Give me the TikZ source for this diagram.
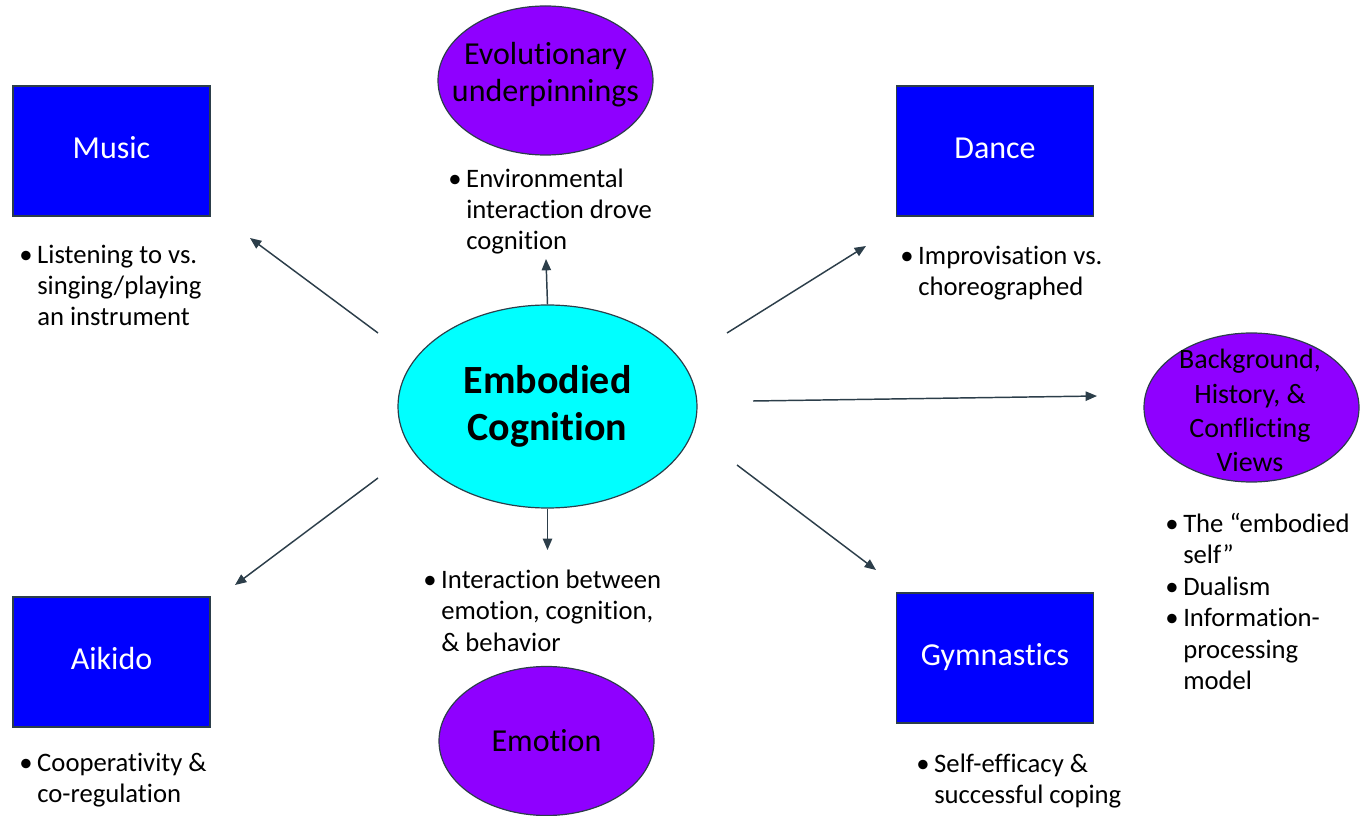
\documentclass[tikz,border=0pt]{standalone}
\usepackage{fontspec}
\setmainfont{Carlito}[Ligatures={NoCommon,NoRequired,NoContextual,NoRare}, Contextuals=NoAlternate]
\usetikzlibrary{shapes, arrows.meta, positioning, calc}

\definecolor{boxblue}{RGB}{0,0,255}
\definecolor{topicviolet}{RGB}{143,0,255}
\definecolor{hubcyan}{RGB}{0,255,255}
\definecolor{edgeslate}{RGB}{44,62,74}

\newcommand{\bul}{\makebox[13.5pt][l]{•}}
\newcommand{\ind}{\hspace*{13.5pt}}

\begin{document}
\begin{tikzpicture}[
    x=0.75pt, y=-0.75pt,
    >={Triangle[length=8.5pt, width=7pt]},
    topicbox/.style={rectangle, draw=edgeslate, line width=0.9pt, fill=boxblue, text=white,
        minimum width=147.75pt, minimum height=97.5pt, inner sep=0pt,
        text height=16pt, text depth=5pt, font=\fontsize{24}{28}\selectfont},
    topic/.style={ellipse, draw=edgeslate, line width=0.9pt, fill=topicviolet,
        minimum width=161.25pt, minimum height=111.75pt, inner sep=0pt, font=\fontsize{24}{28}\selectfont},
    topictext/.style={anchor=base, align=center, inner sep=0pt, font=\fontsize{24}{27.75}\selectfont},
    hub/.style={ellipse, draw=edgeslate, line width=0.9pt, fill=hubcyan, align=center,
        minimum width=224.25pt, minimum height=152.25pt, inner sep=0pt,
        font=\bfseries\fontsize{30}{35.25}\selectfont},
    notes/.style={anchor=base west, align=left, inner sep=0pt, font=\fontsize{20}{23.6}\selectfont},
    flow/.style={->, line width=1.1pt, edgeslate}
]
\useasboundingbox (0,0) rectangle (1361,816);

% Central topic
\node (Hub) at (547.5,406.5) [hub] {Embodied\\Cognition};

% Activities
\node (Music) at (111.5,151) [topicbox] {Music};
\node (Dance) at (995,151) [topicbox] {Dance};
\node (Aikido) at (111.5,662) [topicbox] {Aikido};
\node (Gym) at (995,658) [topicbox] {Gymnastics};

% Themes (text placed at the baseline of its last line)
\node (Evol) at (545.5,80.5) [topic] {};
\node (EvolText) at (545.5,102) [topictext] {Evolutionary\\underpinnings};
\node (Bkg) at (1251.5,407.5) [topic] {};
\node (BkgText) at (1250,472) [topictext, font=\fontsize{21}{25.75}\selectfont] {Background,\\History, \&\\Conflicting\\Views};
\node (Emotion) at (546.5,741) [topic] {Emotion};

% Notes (also placed at the last baseline)
\node (MusicNotes) at (19,326) [notes] {\bul Listening to vs.\\\ind singing/playing\\\ind an instrument};
\node (EvolNotes) at (448,250) [notes] {\bul Environmental\\\ind interaction drove\\\ind cognition};
\node (DanceNotes) at (900,295.5) [notes] {\bul Improvisation vs.\\\ind choreographed};
\node (BkgNotes) at (1165,689.5) [notes] {\bul The “embodied\\\ind self”\\\bul Dualism\\\bul Information-\\\ind processing\\\ind model};
\node (EmotionNotes) at (423,651) [notes] {\bul Interaction between\\\ind emotion, cognition,\\\ind \& behavior};
\node (AikidoNotes) at (19,802.5) [notes] {\bul Cooperativity \&\\\ind co-regulation};
\node (GymNotes) at (916,803.5) [notes] {\bul Self-efficacy \&\\\ind successful coping};

% Arrows out of the hub
\coordinate (MusicTail) at (378,333);
\coordinate (MusicTip) at (250,238);
\coordinate (EvolTip) at (546,259);
\coordinate (DanceTail) at (727,333);
\coordinate (DanceTip) at (866,246);
\coordinate (BkgTail) at (753,401);
\coordinate (BkgTip) at (1097,396);
\coordinate (GymTail) at (737,465);
\coordinate (GymTip) at (876,570);
\coordinate (EmotionTip) at (547.5,550);
\coordinate (AikidoTail) at (378,478);
\coordinate (AikidoTip) at (235,585);

\draw[flow] (MusicTail) -- (MusicTip);
\draw[flow] (Hub.north) -- (EvolTip);
\draw[flow] (DanceTail) -- (DanceTip);
\draw[flow] (BkgTail) -- (BkgTip);
\draw[flow] (GymTail) -- (GymTip);
\draw[flow] (Hub.south) -- (EmotionTip);
\draw[flow] (AikidoTail) -- (AikidoTip);
\end{tikzpicture}
\end{document}
